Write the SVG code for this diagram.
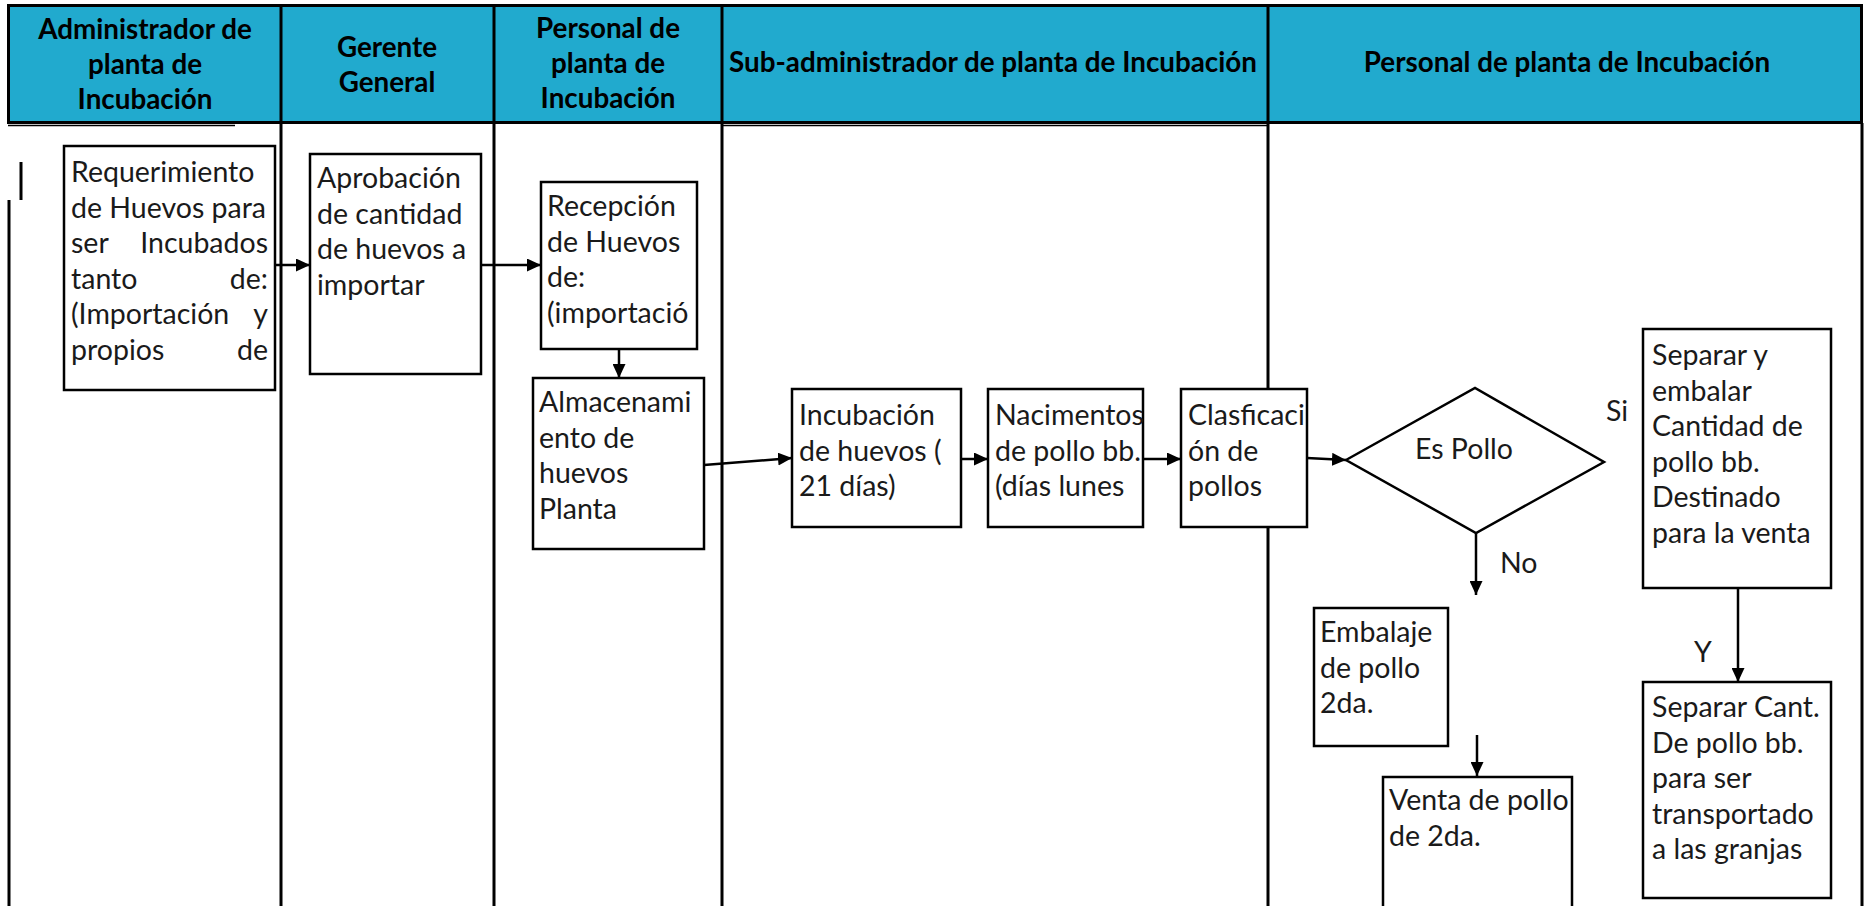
<svg xmlns="http://www.w3.org/2000/svg" width="1870" height="906" viewBox="0 0 1870 906">
<defs>
<marker id="ah" markerUnits="userSpaceOnUse" markerWidth="14" markerHeight="13" refX="14" refY="6.5" orient="auto">
<path d="M0,0 L14,6.5 L0,13 Z" fill="#000"/>
</marker>
<style>
.hd{font-family:Lato,"Liberation Sans",sans-serif;font-weight:bold;font-size:27.8px;fill:#000;text-anchor:middle}
.tx{font-family:Lato,"Liberation Sans",sans-serif;font-size:28.5px;fill:#1a1a1a}
.r{text-anchor:end}
.box{fill:#fff;stroke:#000;stroke-width:2.5}
.lane{stroke:#000;stroke-width:3;fill:none}
.cn{stroke:#000;stroke-width:2.5;fill:none;marker-end:url(#ah)}
</style>
</defs>
<rect width="1870" height="906" fill="#fff"/>
<g id="lanes">
<rect x="8.5" y="5.5" width="1853" height="117" fill="#21AACE" stroke="#000" stroke-width="3"/>
<line class="lane" x1="281" y1="5" x2="281" y2="123"/>
<line class="lane" x1="494" y1="5" x2="494" y2="123"/>
<line class="lane" x1="722" y1="5" x2="722" y2="123"/>
<line class="lane" x1="1268" y1="5" x2="1268" y2="123"/>
<line stroke="#000" stroke-width="1.5" x1="8" y1="125.5" x2="235" y2="125.5"/>
<line stroke="#000" stroke-width="1.5" x1="722" y1="125.5" x2="1267" y2="125.5"/>
<line class="lane" x1="281" y1="124" x2="281" y2="906"/>
<line class="lane" x1="494" y1="124" x2="494" y2="906"/>
<line class="lane" x1="722" y1="124" x2="722" y2="906"/>
<line class="lane" x1="1268" y1="124" x2="1268" y2="906"/>
<line class="lane" x1="1862" y1="123" x2="1862" y2="906"/>
<line class="lane" x1="21" y1="162" x2="21" y2="200"/>
<line class="lane" x1="9" y1="200" x2="9" y2="906"/>
<text class="hd" x="145" y="39">Administrador de</text>
<text class="hd" x="145" y="74">planta de</text>
<text class="hd" x="145" y="109">Incubación</text>
<text class="hd" x="387" y="57">Gerente</text>
<text class="hd" x="387" y="92">General</text>
<text class="hd" x="608" y="38">Personal de</text>
<text class="hd" x="608" y="73">planta de</text>
<text class="hd" x="608" y="108">Incubación</text>
<text class="hd" x="993" y="72">Sub-administrador de planta de Incubación</text>
<text class="hd" x="1567" y="72">Personal de planta de Incubación</text>
</g>
<g id="connectors">
<path class="cn" d="M275,265 L310,265"/>
<path class="cn" d="M481,265 L541,265"/>
<path class="cn" d="M619,349 L619,378"/>
<path class="cn" d="M704,465 L792,458"/>
<path class="cn" d="M961,459 L988,459"/>
<path class="cn" d="M1143,459 L1181,459"/>
<path class="cn" d="M1307,458 L1346,460"/>
<path class="cn" d="M1476,533 L1476,595"/>
<path class="cn" stroke-width="1.8" d="M1477,735 L1477,776"/>
<path class="cn" d="M1738,588 L1738,682"/>
<text class="tx" x="1606" y="421">Si</text>
<text class="tx" x="1500" y="573">No</text>
<text class="tx" x="1694" y="662">Y</text>
</g>
<g id="n-req">
<rect class="box" x="64" y="146" width="211" height="244"/>
<text class="tx" x="71" y="182">Requerimiento</text>
<text class="tx" x="71" y="217.5">de Huevos para</text>
<text class="tx" x="71" y="253">ser</text><text class="tx r" x="268" y="253">Incubados</text>
<text class="tx" x="71" y="288.5">tanto</text><text class="tx r" x="268" y="288.5">de:</text>
<text class="tx" x="71" y="324">(Importación</text><text class="tx r" x="268" y="324">y</text>
<text class="tx" x="71" y="359.5">propios</text><text class="tx r" x="268" y="359.5">de</text>
</g>
<g id="n-aprob">
<rect class="box" x="310" y="154" width="171" height="220"/>
<text class="tx" x="317" y="188">Aprobación</text>
<text class="tx" x="317" y="223.5">de cantidad</text>
<text class="tx" x="317" y="259">de huevos a</text>
<text class="tx" x="317" y="294.5">importar</text>
</g>
<g id="n-recep">
<rect class="box" x="541" y="182" width="156" height="167"/>
<text class="tx" x="547" y="216">Recepción</text>
<text class="tx" x="547" y="251.5">de Huevos</text>
<text class="tx" x="547" y="287">de:</text>
<text class="tx" x="547" y="322.5">(importació</text>
</g>
<g id="n-almac">
<rect class="box" x="533" y="378" width="171" height="171"/>
<text class="tx" x="539" y="412">Almacenami</text>
<text class="tx" x="539" y="447.5">ento de</text>
<text class="tx" x="539" y="483">huevos</text>
<text class="tx" x="539" y="518.5">Planta</text>
</g>
<g id="n-incub">
<rect class="box" x="792" y="389" width="169" height="138"/>
<text class="tx" x="799" y="425">Incubación</text>
<text class="tx" x="799" y="460.5">de huevos (</text>
<text class="tx" x="799" y="496">21 días)</text>
</g>
<g id="n-nacim">
<rect class="box" x="988" y="389" width="155" height="138"/>
<text class="tx" x="995" y="425">Nacimentos</text>
<text class="tx" x="995" y="460.5">de pollo bb.</text>
<text class="tx" x="995" y="496">(días lunes</text>
</g>
<g id="n-clasif">
<rect class="box" x="1181" y="389" width="126" height="138"/>
<text class="tx" x="1188" y="425">Clasficaci</text>
<text class="tx" x="1188" y="460.5">ón de</text>
<text class="tx" x="1188" y="496">pollos</text>
</g>
<g id="n-espollo">
<polygon class="box" points="1346,460 1475,388 1604,462 1476,533"/>
<text class="tx" x="1464" y="459" text-anchor="middle">Es Pollo</text>
</g>
<g id="n-separar">
<rect class="box" x="1643" y="329" width="188" height="259"/>
<text class="tx" x="1652" y="365">Separar y</text>
<text class="tx" x="1652" y="400.5">embalar</text>
<text class="tx" x="1652" y="436">Cantidad de</text>
<text class="tx" x="1652" y="471.5">pollo bb.</text>
<text class="tx" x="1652" y="507">Destinado</text>
<text class="tx" x="1652" y="542.5">para la venta</text>
</g>
<g id="n-separar-cant">
<rect class="box" x="1643" y="682" width="188" height="216"/>
<text class="tx" x="1652" y="717">Separar Cant.</text>
<text class="tx" x="1652" y="752.5">De pollo bb.</text>
<text class="tx" x="1652" y="788">para ser</text>
<text class="tx" x="1652" y="823.5">transportado</text>
<text class="tx" x="1652" y="859">a las granjas</text>
</g>
<g id="n-embalaje">
<rect class="box" x="1314" y="608" width="134" height="138"/>
<text class="tx" x="1320" y="642">Embalaje</text>
<text class="tx" x="1320" y="677.5">de pollo</text>
<text class="tx" x="1320" y="713">2da.</text>
</g>
<g id="n-venta">
<rect class="box" x="1383" y="777" width="189" height="140"/>
<text class="tx" x="1389" y="810">Venta de pollo</text>
<text class="tx" x="1389" y="845.5">de 2da.</text>
</g>
</svg>
